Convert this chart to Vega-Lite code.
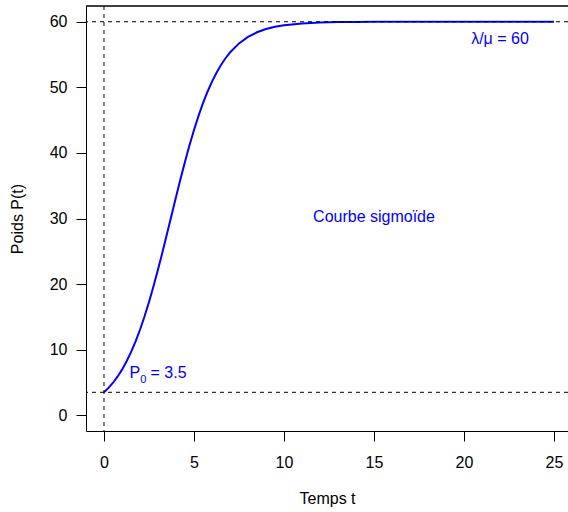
{
  "$schema": "https://vega.github.io/schema/vega-lite/v6.json",
  "width": 482,
  "height": 425,
  "autosize": {"type": "none"},
  "padding": {"left": 86, "top": 6, "right": 0, "bottom": 81},
  "background": "white",
  "config": {
    "view": {"stroke": null},
    "font": "Liberation Sans",
    "axis": {
      "domainColor": "black", "tickColor": "black", "labelColor": "black", "titleColor": "black",
      "labelFont": "Liberation Sans", "titleFont": "Liberation Sans",
      "labelFontSize": 16, "titleFontSize": 16, "titleFontWeight": "normal",
      "tickSize": 10, "grid": false, "domainWidth": 1, "tickWidth": 1,
      "labelFlush": false, "labelOverlap": false
    }
  },
  "datasets": {
    "curve": [
      {"t": 0, "P": 3.5}, {"t": 0.25, "P": 4.172}, {"t": 0.5, "P": 4.961}, {"t": 0.75, "P": 5.884},
      {"t": 1, "P": 6.956}, {"t": 1.25, "P": 8.195}, {"t": 1.5, "P": 9.614}, {"t": 1.75, "P": 11.226},
      {"t": 2, "P": 13.038}, {"t": 2.25, "P": 15.052}, {"t": 2.5, "P": 17.264}, {"t": 2.75, "P": 19.658},
      {"t": 3, "P": 22.211}, {"t": 3.25, "P": 24.892}, {"t": 3.5, "P": 27.658}, {"t": 3.75, "P": 30.466},
      {"t": 4, "P": 33.265}, {"t": 4.25, "P": 36.008}, {"t": 4.5, "P": 38.651}, {"t": 4.75, "P": 41.154},
      {"t": 5, "P": 43.489}, {"t": 5.25, "P": 45.637}, {"t": 5.5, "P": 47.584}, {"t": 5.75, "P": 49.329},
      {"t": 6, "P": 50.876}, {"t": 6.25, "P": 52.234}, {"t": 6.5, "P": 53.416}, {"t": 6.75, "P": 54.438},
      {"t": 7, "P": 55.314}, {"t": 7.5, "P": 56.699}, {"t": 8, "P": 57.691}, {"t": 8.5, "P": 58.394},
      {"t": 9, "P": 58.887}, {"t": 9.5, "P": 59.231}, {"t": 10, "P": 59.469}, {"t": 11, "P": 59.748},
      {"t": 12, "P": 59.881}, {"t": 13, "P": 59.944}, {"t": 14, "P": 59.973}, {"t": 15, "P": 59.987},
      {"t": 17, "P": 59.997}, {"t": 20, "P": 60}, {"t": 25, "P": 60}
    ],
    "hlines": [{"h": 60}, {"h": 3.5}],
    "vlines": [{"v": 0}],
    "labels": [
      {"t": 22.0, "P": 57.3, "label": "λ/μ = 60"},
      {"t": 15.0, "P": 30.2, "label": "Courbe sigmoïde"}
    ],
    "p0": [
      {"t": 1.42, "P": 5.64, "part": "P"},
      {"t": 1.42, "P": 5.64, "part": "0"},
      {"t": 1.42, "P": 5.64, "part": "= 3.5"}
    ]
  },
  "layer": [
    {
      "data": {"name": "curve"},
      "mark": {"type": "line", "color": "#0000FF", "strokeWidth": 2, "clip": true},
      "encoding": {
        "x": {"field": "t", "type": "quantitative",
              "scale": {"domain": [-1, 25.7778], "nice": false, "zero": false},
              "axis": {"values": [0, 5, 10, 15, 20, 25], "title": "Temps t", "labelPadding": 13, "titlePadding": 20}},
        "y": {"field": "P", "type": "quantitative",
              "scale": {"domain": [-2.4, 62.4], "nice": false, "zero": false},
              "axis": {"values": [0, 10, 20, 30, 40, 50, 60], "title": "Poids P(t)", "labelAngle": 0, "labelPadding": 9, "titlePadding": 24}}
      }
    },
    {
      "data": {"name": "hlines"},
      "mark": {"type": "rule", "color": "black", "strokeWidth": 1, "strokeDash": [4, 4]},
      "encoding": {
        "y": {"field": "h", "type": "quantitative", "scale": {"domain": [-2.4, 62.4], "nice": false, "zero": false}}
      }
    },
    {
      "data": {"name": "vlines"},
      "mark": {"type": "rule", "color": "black", "strokeWidth": 1, "strokeDash": [4, 4]},
      "encoding": {
        "x": {"field": "v", "type": "quantitative", "scale": {"domain": [-1, 25.7778], "nice": false, "zero": false}}
      }
    },
    {
      "data": {"name": "hlines"},
      "mark": {"type": "rule", "color": "black", "strokeWidth": 1},
      "encoding": {
        "y": {"datum": 62.4, "type": "quantitative", "scale": {"domain": [-2.4, 62.4], "nice": false, "zero": false}}
      }
    },
    {
      "data": {"name": "labels"},
      "mark": {"type": "text", "color": "#0000FF", "fontSize": 16, "font": "Liberation Sans", "align": "center", "baseline": "middle"},
      "encoding": {
        "x": {"field": "t", "type": "quantitative", "scale": {"domain": [-1, 25.7778], "nice": false, "zero": false}},
        "y": {"field": "P", "type": "quantitative", "scale": {"domain": [-2.4, 62.4], "nice": false, "zero": false}},
        "text": {"field": "label", "type": "nominal"}
      }
    },
    {
      "data": {"name": "p0"},
      "transform": [{"filter": "datum.part === 'P'"}],
      "mark": {"type": "text", "color": "#0000FF", "fontSize": 16, "font": "Liberation Sans", "align": "left", "baseline": "alphabetic"},
      "encoding": {
        "x": {"field": "t", "type": "quantitative", "scale": {"domain": [-1, 25.7778], "nice": false, "zero": false}},
        "y": {"field": "P", "type": "quantitative", "scale": {"domain": [-2.4, 62.4], "nice": false, "zero": false}},
        "text": {"field": "part", "type": "nominal"}
      }
    },
    {
      "data": {"name": "p0"},
      "transform": [{"filter": "datum.part === '0'"}],
      "mark": {"type": "text", "color": "#0000FF", "fontSize": 11, "font": "Liberation Sans", "align": "left", "baseline": "alphabetic", "dx": 10.7, "dy": 5},
      "encoding": {
        "x": {"field": "t", "type": "quantitative", "scale": {"domain": [-1, 25.7778], "nice": false, "zero": false}},
        "y": {"field": "P", "type": "quantitative", "scale": {"domain": [-2.4, 62.4], "nice": false, "zero": false}},
        "text": {"field": "part", "type": "nominal"}
      }
    },
    {
      "data": {"name": "p0"},
      "transform": [{"filter": "datum.part === '= 3.5'"}],
      "mark": {"type": "text", "color": "#0000FF", "fontSize": 16, "font": "Liberation Sans", "align": "left", "baseline": "alphabetic", "dx": 21},
      "encoding": {
        "x": {"field": "t", "type": "quantitative", "scale": {"domain": [-1, 25.7778], "nice": false, "zero": false}},
        "y": {"field": "P", "type": "quantitative", "scale": {"domain": [-2.4, 62.4], "nice": false, "zero": false}},
        "text": {"field": "part", "type": "nominal"}
      }
    }
  ]
}
